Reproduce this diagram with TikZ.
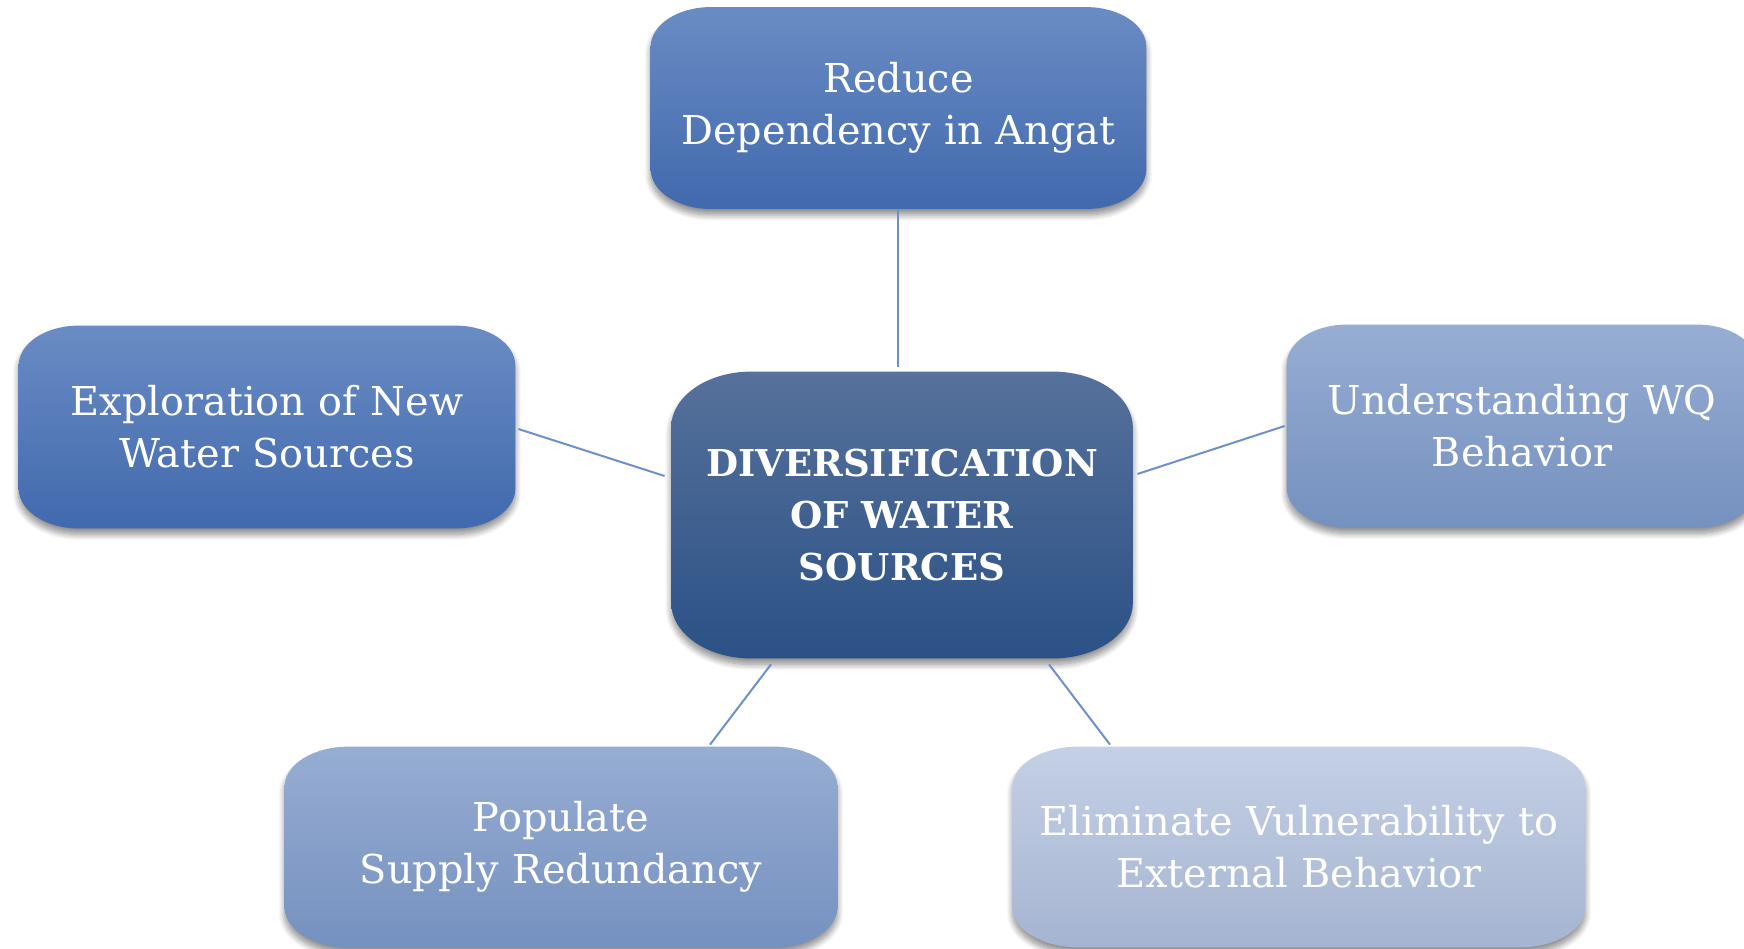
\documentclass[tikz,border=0pt]{standalone}
\usepackage{fontspec}
\setmainfont{DejaVu Serif}
\usetikzlibrary{calc,shadows.blur,backgrounds}
\definecolor{darkT}{HTML}{6A8CC4}
\definecolor{darkB}{HTML}{4169AD}
\definecolor{midT}{HTML}{97ADD3}
\definecolor{midB}{HTML}{7591BF}
\definecolor{paleT}{HTML}{C4D0E5}
\definecolor{paleB}{HTML}{A5B4D1}
\definecolor{cenT}{HTML}{56719B}
\definecolor{cenB}{HTML}{2B5186}
\definecolor{lineC}{HTML}{6F8FC8}
\tikzset{
  box/.style={inner sep=0pt, align=center, text=white,
    font=\fontsize{19.9}{26}\selectfont},
  cenbox/.style={box, font=\fontsize{18.5}{26}\selectfont\bfseries},
  conn/.style={draw=lineC, line width=1pt},
  bubbleshadow/.style={blur shadow={shadow xshift=0pt, shadow yshift=-3pt,
    shadow blur radius=3pt, shadow blur steps=10, shadow opacity=45}}
}
% #1 node name, #2 x radius, #3 y radius, #4 top colour, #5 bottom colour
\newcommand\mybubble[5]{%
  \path[top color=#4, bottom color=#5, bubbleshadow]
    let \p1=(#1.north west), \p2=(#1.south east) in
    (\x1,\y1-#3) arc[start angle=180, end angle=90, x radius=#2, y radius=#3]
    -- (\x2-#2,\y1) arc[start angle=90, end angle=0, x radius=#2, y radius=#3]
    -- (\x2,\y2+#3) arc[start angle=0, end angle=-90, x radius=#2, y radius=#3]
    -- (\x1+#2,\y2) arc[start angle=-90, end angle=-180, x radius=#2, y radius=#3]
    -- cycle;}
\begin{document}
\begin{tikzpicture}[x={(0.5pt,0)}, y={(0,-0.5pt)}]
\useasboundingbox (0,0) rectangle (1744,948);
\node[box, minimum width=247.5pt, minimum height=100.5pt, text width=240pt] (T) at (898.5,108) {Reduce\\Dependency in Angat};
\node[box, minimum width=248pt, minimum height=101pt, text width=240pt] (L) at (267,427) {Exploration of New\\Water Sources};
\node[box, minimum width=235pt, minimum height=101pt, text width=230pt] (R) at (1522,426) {Understanding WQ\\Behavior};
\node[box, minimum width=276pt, minimum height=100pt, text width=270pt] (BL) at (561,847) {Populate\\Supply Redundancy};
\node[box, minimum width=286pt, minimum height=100pt, text width=280pt] (BR) at (1299,847) {Eliminate Vulnerability to\\External Behavior};
\node[cenbox, minimum width=230.5pt, minimum height=143pt, text width=225pt] (C) at (902,515) {DIVERSIFICATION\\OF WATER\\SOURCES};
\begin{pgfonlayer}{background}
  \mybubble{T}{30pt}{20pt}{darkT}{darkB}
  \mybubble{L}{30pt}{20pt}{darkT}{darkB}
  \mybubble{R}{30pt}{20pt}{midT}{midB}
  \mybubble{BL}{32pt}{20pt}{midT}{midB}
  \mybubble{BR}{33pt}{20pt}{paleT}{paleB}
  \mybubble{C}{40pt}{28pt}{cenT}{cenB}
\end{pgfonlayer}
\draw[conn] ($(T.south)+(-1,1)$) -- ($(T.south |- C.north)+(-1,-5)$);
\draw[conn] ($(L.east)+(3,2)$) -- ($(C.west)+(-6.5,-39)$);
\draw[conn] ($(C.east)+(4.5,-41)$) -- ($(R.west)+(-2,0)$);
\draw[conn] ($(C.south)+(-131,6)$) -- ($(BL.north)+(149,-2)$);
\draw[conn] ($(C.south)+(147,6)$) -- ($(BR.north)+(-189,-2)$);
\end{tikzpicture}
\end{document}
